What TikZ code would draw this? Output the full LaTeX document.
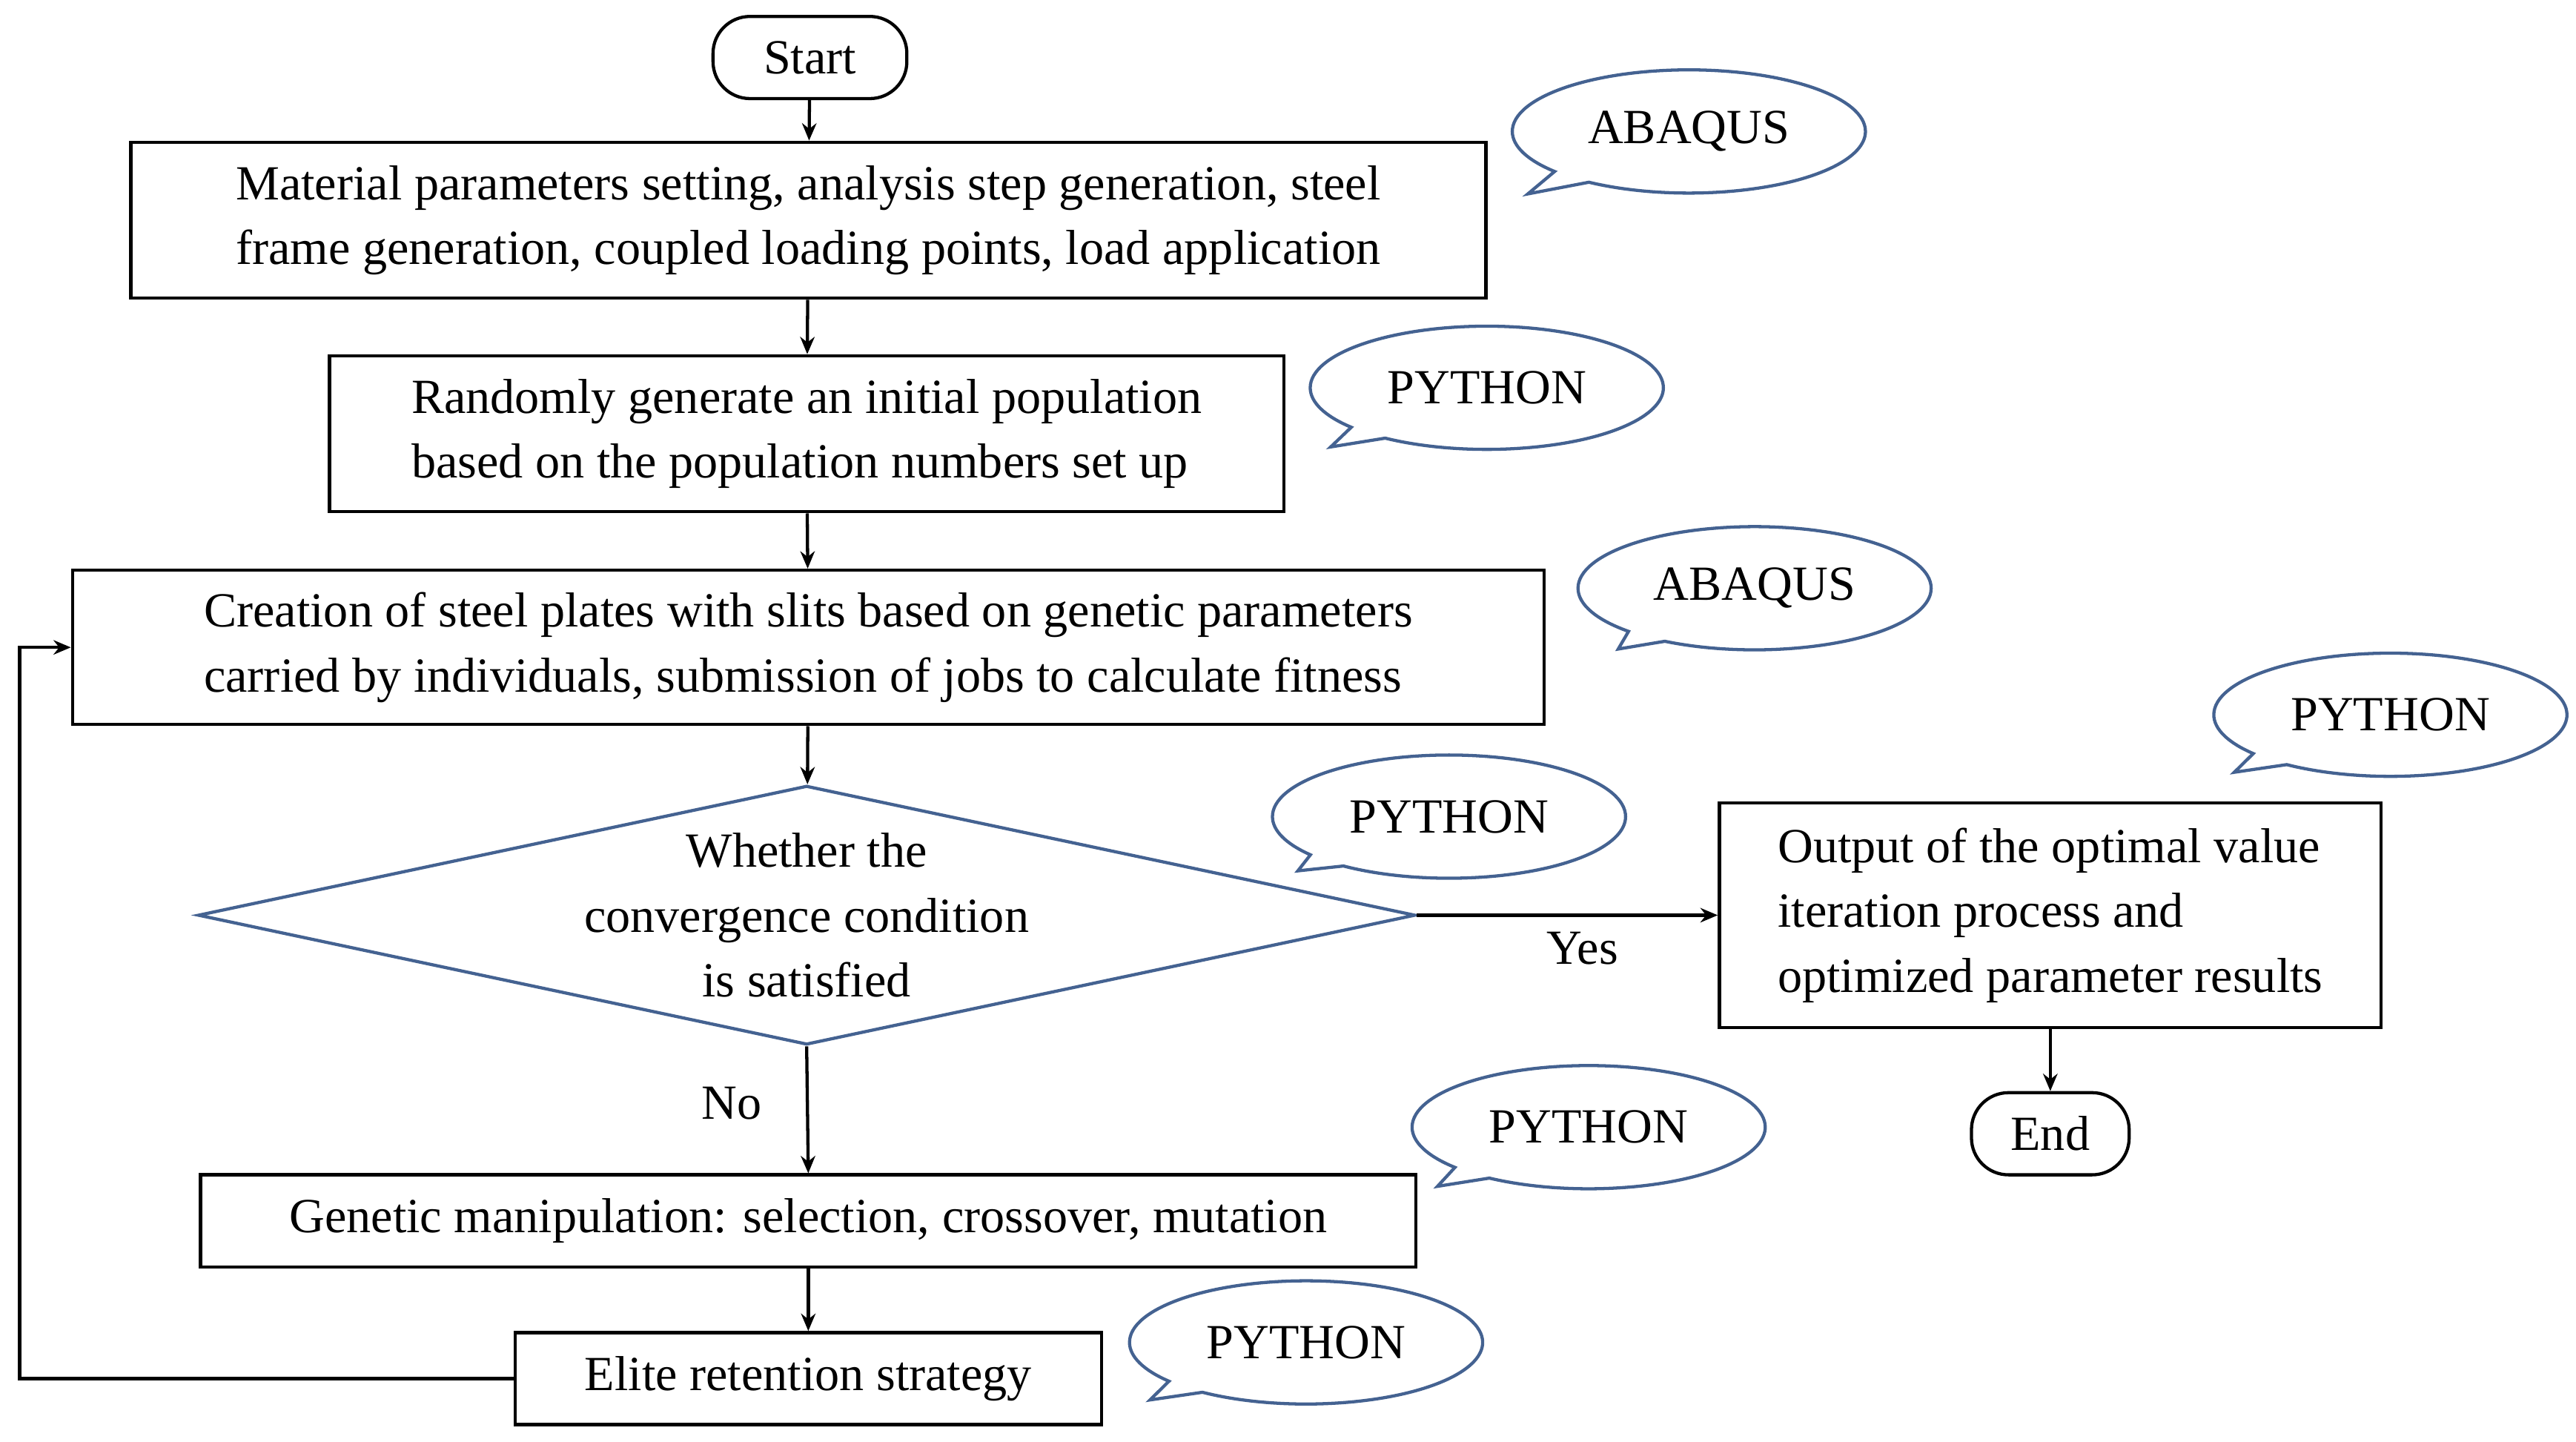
\documentclass[tikz,border=0pt]{standalone}
\usepackage{fontspec}
\setmainfont{Liberation Serif}
\usetikzlibrary{shapes.geometric,shapes.callouts,arrows.meta}
\definecolor{callblue}{RGB}{68,98,145}
\begin{document}
\begin{tikzpicture}[x=0.02cm,y=-0.02cm,
  every node/.style={font=\fontsize{17}{22.5}\selectfont},
  box/.style={draw,line width=1.1pt,align=left,inner sep=0pt},
  term/.style={draw,line width=1.1pt,rounded corners=0.45cm,inner sep=0pt},
  dia/.style={draw=callblue,line width=1.1pt,diamond,aspect=4.7,align=center,inner sep=0pt},
  bub/.style={ellipse callout,draw=callblue,line width=1.1pt,minimum width=4.3cm,minimum height=1.5cm,inner sep=0pt},
  arr/.style={-{Stealth[length=6pt,width=5pt]},line width=1.1pt},
  lbl/.style={font=\fontsize{17}{20}\selectfont}]
\useasboundingbox (0,0) rectangle (1568,877.6);
\node[term,minimum width=2.36cm,minimum height=1cm] (start) at (493,35) {Start};
\node[box,minimum width=16.5cm,minimum height=1.9cm] (b1) at (492,134) {Material parameters setting, analysis step generation, steel\\frame generation, coupled loading points, load application};
\node[box,minimum width=11.62cm,minimum height=1.9cm] (b2) at (491,264) {Randomly generate an initial population\\based on the population numbers set up};
\node[box,minimum width=17.92cm,minimum height=1.88cm] (b3) at (492,394) {Creation of steel plates with slits based on genetic parameters\\carried by individuals, submission of jobs to calculate fitness};
\node[dia,minimum width=13.74cm,minimum height=2.9cm] (d) at (491,557) {Whether the\\convergence condition\\is satisfied};
\node[box,minimum width=8.06cm,minimum height=2.74cm] (out) at (1248,557) {Output of the optimal value\\iteration process and\\optimized parameter results};
\node[term,minimum width=1.92cm,minimum height=1cm] (end) at (1248,690) {End};
\node[box,minimum width=14.8cm,minimum height=1.12cm] (g) at (492,743) {Genetic manipulation: selection, crossover, mutation};
\node[box,minimum width=7.14cm,minimum height=1.12cm] (e) at (492,839) {Elite retention strategy};
\draw[arr] (start) -- (b1);
\draw[arr] (b1) -- (b2);
\draw[arr] (b2) -- (b3);
\draw[arr] (b3) -- (d);
\draw[arr] (d.east) -- node[lbl,below,pos=0.55,yshift=-2pt]{Yes} (out.west);
\draw[arr] (out) -- (end);
\draw[arr] (d.south) -- node[lbl,left,pos=0.45,xshift=-12pt]{No} (g.north);
\draw[arr] (g) -- (e);
\coordinate (c1) at (12,839);
\coordinate (c2) at (12,394);
\draw[arr] (e.west) -- (c1) -- (c2) -- (b3.west);
\node[bub,callout absolute pointer={(930,118)}] (a1) at (1028,80) {ABAQUS};
\node[bub,callout absolute pointer={(810,272)}] (p1) at (905,236) {PYTHON};
\node[bub,callout absolute pointer={(985,395)}] (a2) at (1068,358) {ABAQUS};
\node[bub,callout absolute pointer={(1360,470)}] (p2) at (1455,435) {PYTHON};
\node[bub,callout absolute pointer={(790,530)}] (p3) at (882,497) {PYTHON};
\node[bub,callout absolute pointer={(875,722)}] (p4) at (967,686) {PYTHON};
\node[bub,callout absolute pointer={(700,852)}] (p5) at (795,817) {PYTHON};
\end{tikzpicture}
\end{document}
